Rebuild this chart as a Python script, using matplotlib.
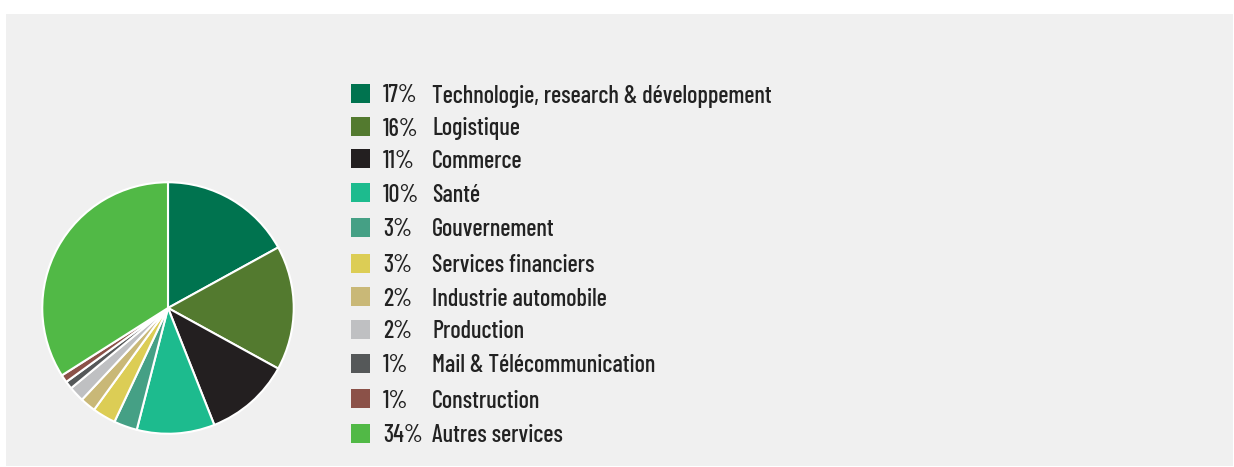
import matplotlib
matplotlib.use('Agg')
import matplotlib.pyplot as plt
from matplotlib.patches import Rectangle

# sector shares (percent), clockwise from 12 o'clock
percents = [17, 16, 11, 10, 3, 3, 2, 2, 1, 1, 34]
sectors = ['Technologie, research & développement', 'Logistique', 'Commerce', 'Santé',
           'Gouvernement', 'Services financiers', 'Industrie automobile', 'Production',
           'Mail & Télécommunication', 'Construction', 'Autres services']
colors = ['#00734f', '#537a2f', '#231f20', '#1dbb8e', '#45a085', '#dccd55',
          '#c9b877', '#bfc0c2', '#555859', '#8b5148', '#51b946']

W, H = 1234, 467
FONT = ['Barlow Condensed', 'Roboto Condensed', 'DejaVu Sans']

fig = plt.figure(figsize=(W / 100, H / 100), dpi=100, facecolor='white')

# background panel + legend layer, in pixel coords
bg = fig.add_axes([0, 0, 1, 1])
bg.set_xlim(0, W)
bg.set_ylim(H, 0)
bg.axis('off')
bg.add_patch(Rectangle((6, 14), 1227, 452, facecolor='#f0f0f0', edgecolor='none', zorder=0))

# pie
cx, cy, r = 168, 308, 127
ax = fig.add_axes([(cx - r) / W, (H - cy - r) / H, 2 * r / W, 2 * r / H])
ax.pie(percents, colors=colors, startangle=90, counterclock=False,
       wedgeprops=dict(edgecolor='white', linewidth=1.5))
ax.set_xlim(-1.01, 1.01)
ax.set_ylim(-1.01, 1.01)
ax.axis('off')

# legend
row_y = [94, 127, 159, 193, 228, 264, 297, 330, 364, 399, 434]
for i in range(len(sectors)):
    y = row_y[i]
    bg.add_patch(Rectangle((351, y - 10), 19, 19, facecolor=colors[i], edgecolor='none', zorder=2))
    bg.text(383, y + 8.5, '{}%'.format(percents[i]), fontsize=17.5, family=FONT,
            weight='medium', color='#222222', va='baseline', ha='left')
    bg.text(432, y + 8.5, sectors[i], fontsize=17.5, family=FONT,
            weight='medium', color='#222222', va='baseline', ha='left')

fig.savefig('out.png', dpi=100, facecolor='white')
